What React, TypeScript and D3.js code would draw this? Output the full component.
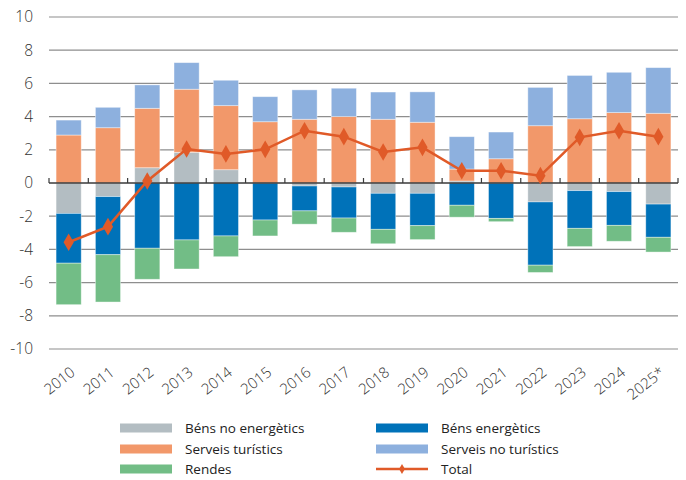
import React from "react";
import * as d3 from "d3";

// values (percentage points)
const years = ["2010", "2011", "2012", "2013", "2014", "2015", "2016", "2017", "2018", "2019", "2020", "2021", "2022", "2023", "2024", "2025*"];
const bensNoEnerg = [-1.83, -0.82, 0.92, 1.85, 0.8, 0, -0.18, -0.24, -0.62, -0.62, 0.12, 0, -1.14, -0.46, -0.52, -1.27];
const bensEnerg = [-3.0, -3.5, -3.93, -3.43, -3.19, -2.23, -1.5, -1.87, -2.17, -1.95, -1.34, -2.13, -3.81, -2.27, -2.03, -2.0];
const serveisTur = [2.89, 3.33, 3.58, 3.8, 3.86, 3.69, 3.84, 4.0, 3.84, 3.66, 0.72, 1.46, 3.45, 3.87, 4.24, 4.2];
const serveisNoTur = [0.9, 1.23, 1.41, 1.6, 1.53, 1.51, 1.77, 1.71, 1.64, 1.83, 1.95, 1.61, 2.31, 2.61, 2.43, 2.75];
const rendes = [-2.5, -2.85, -1.87, -1.75, -1.25, -0.96, -0.8, -0.86, -0.87, -0.84, -0.72, -0.2, -0.44, -1.1, -0.96, -0.89];
const total = [-3.57, -2.63, 0.12, 2.05, 1.75, 2.03, 3.15, 2.79, 1.87, 2.15, 0.74, 0.74, 0.44, 2.75, 3.15, 2.79];
const yTicks = [-10, -8, -6, -4, -2, 0, 2, 4, 6, 8, 10];

const series = [
  { key: "bne", name: "Béns no energètics", values: bensNoEnerg, color: "#b3bdc2" },
  { key: "be", name: "Béns energètics", values: bensEnerg, color: "#0072b9" },
  { key: "st", name: "Serveis turístics", values: serveisTur, color: "#f2986a" },
  { key: "snt", name: "Serveis no turístics", values: serveisNoTur, color: "#8db0de" },
  { key: "r", name: "Rendes", values: rendes, color: "#72bd86" },
];
const totalColor = "#e05a28";

const W = 686, H = 480;
const left = 49, right = 678, top = 17, bottom = 349;
const font = "'Open Sans', 'Noto Sans', sans-serif";

export default function App() {
  const x = d3.scaleBand().domain(years).range([left, right]).paddingInner(0.36).paddingOuter(0.18);
  const y = d3.scaleLinear().domain([-10, 10]).range([bottom, top]);

  const rows = years.map((yr, i) => {
    const r: any = { year: yr };
    series.forEach((s) => (r[s.key] = s.values[i]));
    return r;
  });
  const stacked = d3.stack().keys(series.map((s) => s.key)).offset(d3.stackOffsetDiverging)(rows);

  const line = d3.line<number>()
    .x((_, i) => x(years[i])! + x.bandwidth() / 2)
    .y((d) => y(d));

  const diamond = d3.symbol().type(d3.symbolDiamond).size(90)();
  const smallDiamond = d3.symbol().type(d3.symbolDiamond).size(30)();
  const step = x.step();

  const legend = [
    { ...series[0], lx: 120, ly: 428 },
    { ...series[1], lx: 376, ly: 428 },
    { ...series[2], lx: 120, ly: 449 },
    { ...series[3], lx: 376, ly: 449 },
    { ...series[4], lx: 120, ly: 469 },
  ];

  return (
    <div style={{ position: "fixed", left: 0, top: 0 }}>
      <svg width={W} height={H} style={{ display: "block", background: "#fff" }}>
        {/* grid */}
        {yTicks.filter((t) => t !== 0).map((t) => (
          <line key={t} x1={left} x2={right} y1={y(t)} y2={y(t)} stroke="#8e8e8e" strokeWidth={1.2} />
        ))}
        {yTicks.map((t) => (
          <text key={"l" + t} x={33} y={y(t)} dy="0.35em" textAnchor="end" fontFamily={font} fontWeight={300} fontSize={15.5} fill="#333">
            {t}
          </text>
        ))}

        {/* bars */}
        {stacked.map((layer, li) => (
          <g key={layer.key} fill={series[li].color}>
            {layer.map((d, i) => (
              Math.abs(d[1] - d[0]) > 0.001 ? (
                <rect key={i} x={x(years[i])} width={x.bandwidth()} y={y(Math.max(d[0], d[1]))}
                  height={Math.abs(y(d[0]) - y(d[1]))} stroke="#fff" strokeOpacity={0.5} strokeWidth={0.8} />
              ) : null
            ))}
          </g>
        ))}

        {/* zero axis */}
        <line x1={left} x2={right} y1={y(0)} y2={y(0)} stroke="#3a3a3a" strokeWidth={1.5} />
        {d3.range(years.length + 1).map((i) => (
          <line key={"t" + i} x1={left + i * step} x2={left + i * step} y1={y(0)} y2={y(0) - 5} stroke="#3a3a3a" strokeWidth={1.2} />
        ))}

        {/* total */}
        <path d={line(total) || ""} fill="none" stroke={totalColor} strokeWidth={2.5} />
        {total.map((v, i) => (
          <path key={"m" + i} d={diamond || ""} fill={totalColor}
            transform={`translate(${x(years[i])! + x.bandwidth() / 2},${y(v)})`} />
        ))}

        {/* x labels */}
        {years.map((yr) => {
          const cx = x(yr)! + x.bandwidth() / 2 + 1;
          return (
            <text key={"x" + yr} transform={`translate(${cx},${366}) rotate(-38)`} textAnchor="end" dy="0.7em"
              fontFamily={font} fontWeight={300} fontSize={15} fill="#333">
              {yr}
            </text>
          );
        })}

        {/* legend */}
        {legend.map((l) => (
          <g key={"lg" + l.key}>
            <rect x={l.lx} y={l.ly - 4.5} width={52} height={9} fill={l.color} />
            <text x={l.lx + 65} y={l.ly} dy="0.35em" fontFamily={font} fontSize={13.5} fill="#222">{l.name}</text>
          </g>
        ))}
        <g>
          <line x1={376} x2={428} y1={469} y2={469} stroke={totalColor} strokeWidth={2.5} />
          <path d={smallDiamond || ""} fill={totalColor} transform="translate(402,469)" />
          <text x={441} y={469} dy="0.35em" fontFamily={font} fontSize={13.5} fill="#222">Total</text>
        </g>
      </svg>
    </div>
  );
}
